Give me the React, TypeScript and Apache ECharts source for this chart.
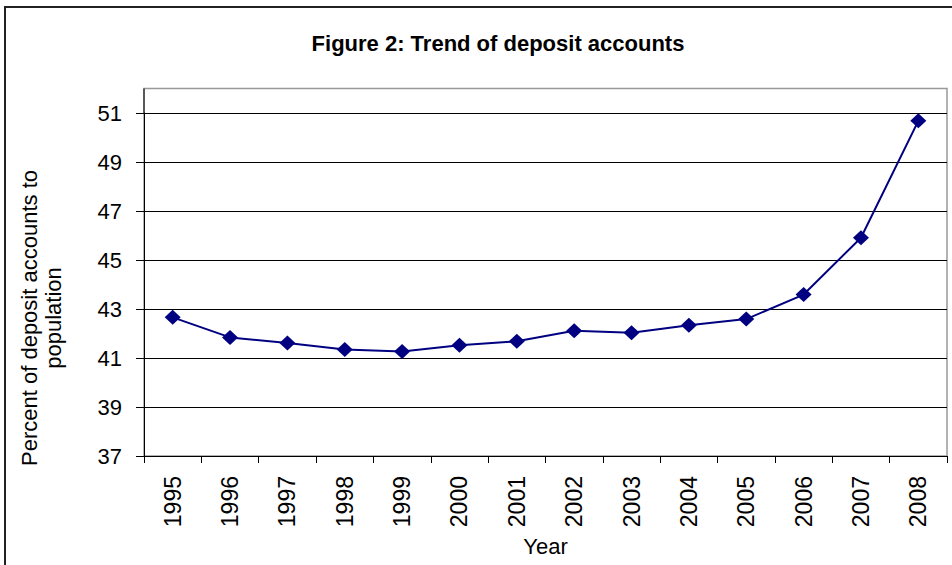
import React, { useEffect, useRef } from "react";
import * as echarts from "echarts";

const years = ["1995", "1996", "1997", "1998", "1999", "2000", "2001", "2002", "2003", "2004", "2005", "2006", "2007", "2008"];
const depositPercent = [42.66, 41.84, 41.61, 41.35, 41.27, 41.52, 41.68, 42.11, 42.03, 42.34, 42.59, 43.59, 45.91, 50.68];
const yTicks = [37, 39, 41, 43, 45, 47, 49, 51];

const titleText = "Figure 2: Trend of deposit accounts";
const yAxisTitle = "Percent of deposit accounts to\npopulation";
const xAxisTitle = "Year";

const FONT = "'Liberation Sans', Arial, sans-serif";

export default function App() {
  const ref = useRef<HTMLDivElement>(null);
  useEffect(() => {
    if (!ref.current) return;
    const chart = echarts.init(ref.current, undefined, { renderer: "svg" });
    chart.setOption({
      animation: false,
      backgroundColor: "#ffffff",
      title: {
        text: titleText,
        left: 493,
        top: 27,
        textAlign: "center",
        textStyle: { fontFamily: FONT, fontSize: 22, fontWeight: "bold", color: "#000" },
      },
      grid: { left: 144, right: 5, top: 113, bottom: 109, containLabel: false },
      xAxis: {
        type: "category",
        data: years,
        boundaryGap: true,
        name: xAxisTitle,
        nameLocation: "middle",
        nameGap: 78,
        nameTextStyle: { fontFamily: FONT, fontSize: 22, color: "#000" },
        axisLine: { lineStyle: { color: "#000", width: 1 } },
        axisTick: { show: true, alignWithLabel: false, length: 7, lineStyle: { color: "#000" } },
        axisLabel: { rotate: 90, fontFamily: FONT, fontSize: 23, color: "#000", margin: 20 },
        splitLine: { show: false },
      },
      yAxis: {
        type: "value",
        min: yTicks[0],
        max: yTicks[yTicks.length - 1],
        interval: 2,
        axisLine: { show: true, lineStyle: { color: "#000", width: 1 } },
        axisTick: { show: true, length: 8, inside: false, lineStyle: { color: "#000" } },
        axisLabel: { fontFamily: FONT, fontSize: 22, color: "#000", margin: 22 },
        splitLine: { show: true, lineStyle: { color: "#000", width: 1 } },
      },
      graphic: [
        {
          type: "rect",
          shape: { x: 5, y: 7, width: 1000, height: 600 },
          style: { fill: "none", stroke: "#222", lineWidth: 2 },
          silent: true,
          z: -10,
        },
        {
          type: "rect",
          shape: { x: 144, y: 88.5, width: 803, height: 367.5 },
          style: { fill: "none", stroke: "#999", lineWidth: 1.5 },
          silent: true,
          z: -5,
        },
        {
          type: "line",
          shape: { x1: 144, y1: 88.5, x2: 144, y2: 113 },
          style: { stroke: "#000", lineWidth: 1 },
          silent: true,
        },
        {
          type: "text",
          x: 41,
          y: 318,
          rotation: Math.PI / 2,
          style: {
            text: yAxisTitle,
            fontFamily: FONT,
            fontSize: 22,
            lineHeight: 24,
            fill: "#000",
            align: "center",
            verticalAlign: "middle",
          },
          silent: true,
        },
      ],
      series: [
        {
          type: "line",
          data: depositPercent,
          symbol: "diamond",
          symbolSize: [16, 15],
          lineStyle: { color: "#000080", width: 2 },
          itemStyle: { color: "#000080" },
          z: 5,
        },
      ],
    });
    return () => chart.dispose();
  }, []);
  return <div ref={ref} style={{ position: "fixed", left: 0, top: 0, width: 952, height: 565 }} />;
}
